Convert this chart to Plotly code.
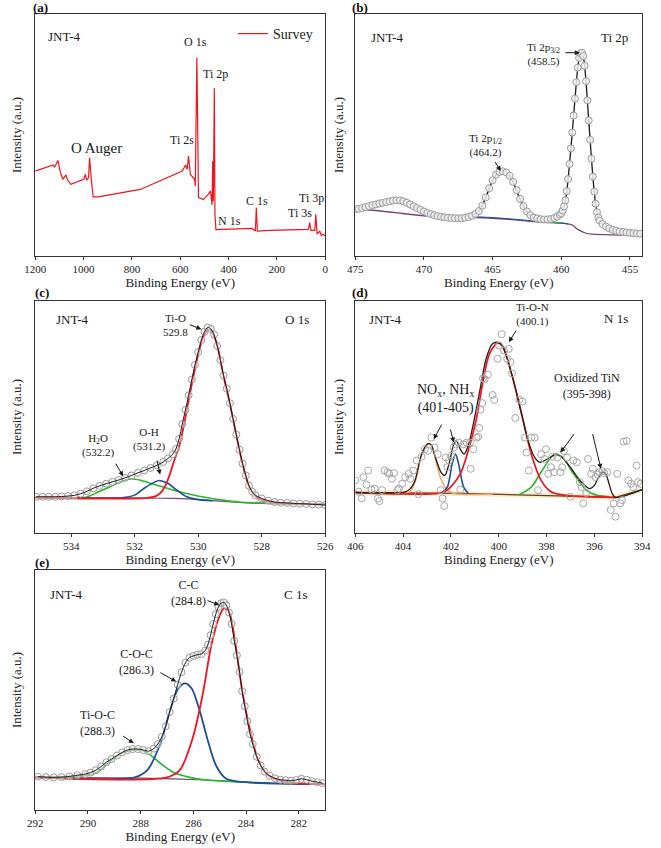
import plotly.graph_objects as go

W, H = 661, 848
FONT = "Liberation Serif, Times New Roman, serif"

# ---------------- (a) Survey ----------------
A_BE = [1200.0, 1126.4, 1119.7, 1106.3, 1097.0, 1086.3, 1072.9, 1066.2, 1052.8, 999.3, 992.6, 987.3,
        979.3, 975.2, 968.6, 960.5, 939.1, 765.2, 591.3, 577.9, 571.2, 565.9, 557.9, 544.5, 540.5,
        537.8, 531.1, 524.4, 504.3, 484.3, 474.9, 468.2, 465.5, 462.9, 458.9, 456.2, 452.2, 363.9,
        303.7, 289.0, 284.9, 280.9, 230.1, 69.6, 64.2, 58.9, 42.8, 38.8, 33.4, 22.7, 16.1, 9.4, 0.0]
A_I = [35.1, 37.6, 36.8, 39.5, 35.1, 31.7, 33.5, 31.4, 29.6, 31.7, 33.7, 31.4,
       32.4, 40.6, 32.4, 24.4, 24.4, 27.5, 35.1, 37.6, 35.8, 41.3, 33.7, 32.4, 31.7,
       28.9, 82.0, 24.1, 23.3, 25.5, 26.9, 21.1, 39.3, 22.7, 69.3, 17.2, 10.9, 11.2,
       11.4, 10.3, 20.0, 10.3, 10.6, 11.0, 13.8, 10.6, 10.6, 17.2, 9.0, 10.3, 8.5, 9.0, 8.3]

# ---------------- (b) Ti 2p ----------------
B_BE = [475.0, 474.75, 474.5, 474.25, 474.0, 473.75, 473.5, 473.25, 473.0, 472.75, 472.5, 472.25,
        472.0, 471.75, 471.5, 471.25, 471.0, 470.75, 470.5, 470.25, 470.0, 469.75, 469.5, 469.25,
        469.0, 468.75, 468.5, 468.25, 468.0, 467.75, 467.5, 467.25, 467.0, 466.75, 466.5, 466.25,
        466.0, 465.75, 465.5, 465.25, 465.0, 464.75, 464.5, 464.25, 464.0, 463.75, 463.5, 463.25,
        463.0, 462.75, 462.5, 462.25, 462.0, 461.75, 461.5, 461.25, 461.0, 460.75, 460.5, 460.3,
        460.1, 460.0, 459.9, 459.8, 459.7, 459.6, 459.5, 459.4, 459.3, 459.2, 459.1, 459.0,
        458.9, 458.8, 458.7, 458.6, 458.5, 458.4, 458.3, 458.2, 458.1, 458.0, 457.9, 457.8,
        457.7, 457.6, 457.5, 457.4, 457.3, 457.2, 457.0, 456.75, 456.5, 456.25, 456.0, 455.75,
        455.5, 455.25, 455.0, 454.75, 454.5, 454.25]
B_I = [19.3, 19.5, 19.8, 20.2, 20.6, 21.0, 21.3, 21.7, 22.0, 22.3, 22.6, 22.9,
       23.0, 23.0, 22.6, 22.0, 21.3, 20.5, 19.8, 19.1, 18.4, 17.8, 17.3, 16.9,
       16.5, 16.2, 16.0, 15.8, 15.7, 15.6, 15.6, 15.6, 15.8, 16.1, 16.6, 17.4,
       18.6, 20.8, 24.2, 28.0, 31.3, 33.6, 34.7, 35.0, 34.5, 33.1, 30.6, 27.2,
       23.6, 20.6, 18.4, 16.9, 15.9, 15.5, 15.2, 15.1, 15.1, 15.3, 15.7, 16.3,
       17.1, 17.7, 18.8, 20.5, 23.0, 26.8, 31.8, 38.0, 44.5, 51.0, 58.0, 65.0,
       71.8, 77.8, 81.8, 83.7, 84.0, 82.6, 78.6, 72.2, 64.3, 56.0, 48.0, 40.2,
       32.8, 26.6, 21.6, 18.1, 15.9, 14.6, 13.2, 12.2, 11.4, 10.8, 10.4, 10.1,
       9.9, 9.7, 9.6, 9.4, 9.3, 9.2]
B_BG_BE = [475.0, 473.7, 472.1, 469.7, 467.4, 465.0, 462.6, 461.5, 459.8, 459.2, 458.8, 458.2, 457.7, 456.3, 454.1]
B_BG_I = [19.3, 18.9, 17.9, 16.5, 16.1, 15.6, 14.5, 14.0, 13.5, 12.8, 11.0, 9.4, 9.0, 8.7, 8.5]
B_BLUE_BE = [470.0, 467.0, 465.0, 463.0, 461.5, 460.5, 459.5]
B_BLUE_I = [16.7, 16.3, 15.9, 15.0, 14.3, 13.9, 13.3]
B_GREEN_BE = [468.0, 467.0, 466.5, 466.0, 465.5, 465.0, 464.5, 464.25, 464.0, 463.5, 463.0, 462.5, 462.0, 461.0, 460.0]
B_GREEN_I = [15.9, 15.8, 16.3, 18.3, 23.8, 31.0, 34.4, 34.7, 34.2, 30.3, 23.2, 18.0, 15.4, 14.2, 13.6]

# ---------------- (c) O 1s ----------------
C_BE = [535.1, 534.9, 534.7, 534.5, 534.3, 534.1, 533.9, 533.7, 533.5, 533.3, 533.1, 532.9,
        532.7, 532.5, 532.3, 532.1, 531.9, 531.7, 531.5, 531.3, 531.1, 530.95, 530.8, 530.7,
        530.6, 530.5, 530.4, 530.3, 530.2, 530.1, 530.0, 529.9, 529.8, 529.7, 529.6, 529.5,
        529.4, 529.3, 529.2, 529.1, 529.0, 528.9, 528.8, 528.7, 528.6, 528.5, 528.4, 528.3,
        528.2, 528.0, 527.8, 527.6, 527.4, 527.2, 527.0, 526.8, 526.6, 526.4, 526.2, 526.0]
C_I = [15.3, 15.3, 15.3, 15.3, 15.4, 15.6, 15.9, 16.6, 17.6, 18.9, 19.9, 20.8,
       21.6, 22.4, 23.3, 24.3, 25.4, 26.4, 27.5, 28.6, 30.0, 31.5, 33.3, 35.5,
       39.8, 46.0, 52.0, 58.2, 64.8, 71.0, 76.4, 81.5, 85.0, 86.8, 86.2, 83.8,
       79.0, 73.0, 66.5, 61.0, 54.8, 48.2, 41.6, 35.2, 29.3, 24.3, 20.0, 17.5,
       16.0, 14.6, 13.7, 13.1, 12.8, 12.7, 12.5, 12.4, 12.3, 12.1, 12.0, 11.8]
C_BG_BE = [535.13, 532.31, 530.77, 529.74, 528.72, 527.69, 526.0]
C_BG_I = [15.0, 14.9, 14.6, 13.9, 12.9, 12.4, 12.1]
C_GREEN_BE = [535.13, 534.36, 533.54, 533.13, 532.82, 532.41, 532.1, 531.79, 531.28, 530.77, 530.26, 529.74, 529.23, 528.72, 527.69, 526.0]
C_GREEN_I = [15.0, 15.0, 15.1, 17.4, 19.2, 21.9, 22.9, 22.2, 20.1, 18.1, 16.4, 15.0, 13.9, 13.1, 12.5, 12.2]
C_BLUE_BE = [535.13, 532.41, 532.0, 531.69, 531.38, 531.23, 530.97, 530.67, 530.36, 530.05, 529.54]
C_BLUE_I = [15.0, 14.9, 16.0, 19.0, 21.5, 22.2, 21.1, 18.1, 15.3, 14.2, 13.6]
C_RED_BE = [535.13, 531.6, 531.3, 531.13, 531.03, 530.9, 530.77, 530.6, 530.45, 530.3, 530.15, 530.0,
            529.85, 529.7, 529.6, 529.5, 529.38, 529.2, 529.0, 528.8, 528.6, 528.4, 528.2, 528.0, 527.7, 527.2, 526.0]
C_RED_I = [15.0, 14.8, 15.8, 17.8, 20.1, 24.5, 30.0, 36.5, 45.5, 56.0, 66.2, 75.3,
           82.4, 85.8, 85.5, 83.2, 78.3, 66.2, 54.5, 41.3, 29.0, 19.7, 15.6, 14.0, 13.0, 12.5, 12.0]

# ---------------- (d) N 1s ----------------
D_BE = [406.00, 405.86, 405.73, 405.66, 405.53, 405.46, 405.32, 405.19, 405.05, 404.99, 404.88, 404.78,
        404.65, 404.58, 404.47, 404.38, 404.24, 404.18, 404.04, 403.91, 403.77, 403.70, 403.57, 403.43,
        403.36, 403.23, 403.09, 402.96, 402.82, 402.69, 402.55, 402.42, 402.35, 402.28, 402.22, 402.15,
        402.08, 401.99, 401.88, 401.81, 401.68, 401.61, 401.47, 401.34, 401.20, 401.18, 401.07, 400.93,
        400.86, 400.82, 400.77, 400.69, 400.66, 400.59, 400.46, 400.26, 400.19, 400.05, 399.99, 399.88,
        399.78, 399.65, 399.58, 399.51, 399.45, 399.31, 399.14, 399.01, 398.91, 398.84, 398.74, 398.64,
        398.50, 398.36, 398.23, 398.09, 398.03, 397.93, 397.82, 397.76, 397.69, 397.55, 397.42, 397.35,
        397.28, 397.15, 397.01, 396.88, 396.74, 396.61, 396.54, 396.47, 396.34, 396.27, 396.14, 396.07,
        395.96, 395.86, 395.80, 395.66, 395.59, 395.46, 395.32, 395.19, 395.12, 395.05, 394.92, 394.85,
        394.78, 394.65, 394.58, 394.47, 394.38, 394.24, 394.18, 394.07]
D_I = [22.2, 17.4, 14.6, 23.6, 20.4, 26.4, 18.3, 18.75, 14.6, 13.5, 18.1, 26.4,
       25.7, 25.0, 22.9, 25.3, 18.1, 18.75, 20.8, 23.6, 25.0, 22.9, 26.4, 30.6,
       16.4, 32.2, 35.4, 34.7, 40.3, 36.1, 33.3, 18.1, 14.6, 11.4, 31.9, 27.8,
       30.6, 32.6, 36.1, 37.5, 38.2, 18.3, 37.5, 38.2, 38.2, 27.1, 35.4, 40.3,
       40.6, 44.4, 52.1, 54.9, 65.3, 65.0, 66.9, 58.3, 56.25, 73.6, 79.2, 84.0,
       77.1, 73.6, 77.8, 72.2, 67.4, 48.6, 56.25, 55.6, 40.3, 34.0, 26.4, 40.3,
       40.3, 18.1, 33.3, 31.25, 35.4, 25.0, 27.8, 32.2, 25.7, 31.9, 25.7, 27.8,
       34.7, 31.9, 15.3, 30.6, 29.9, 21.5, 19.4, 12.5, 16.9, 31.25, 25.0, 27.1,
       23.6, 24.7, 25.7, 26.1, 25.3, 25.7, 9.7, 12.5, 6.9, 25.0, 12.5, 13.9,
       38.6, 38.9, 22.2, 20.8, 19.4, 28.5, 21.5, 20.8]
D_BG_BE = [406.0, 401.61, 397.55, 395.12, 394.0]
D_BG_I = [17.1, 16.7, 15.7, 15.0, 18.3]
D_ENV_BE = [406.0, 403.91, 403.70, 403.5, 403.23, 402.96, 402.82, 402.69, 402.42, 402.26, 402.08, 401.88,
            401.77, 401.61, 401.45, 401.27, 401.07, 400.8, 400.53, 400.26, 400.05, 399.85, 399.45, 399.04,
            398.77, 398.5, 398.3, 397.96, 397.62, 397.42, 397.01, 396.61, 396.2, 396.0, 395.86, 395.66,
            395.53, 395.39, 395.26, 395.12, 394.0]
D_ENV_I = [17.1, 17.4, 18.75, 22.2, 33.3, 37.8, 37.2, 33.3, 25.7, 24.3, 29.2, 37.5,
           38.9, 35.4, 33.3, 37.2, 45.8, 59.7, 73.6, 79.9, 80.6, 78.9, 66.7, 50.0,
           38.9, 31.9, 29.9, 31.25, 33.3, 32.6, 27.8, 22.2, 18.75, 20.1, 22.9, 25.7,
           25.0, 20.8, 16.7, 15.0, 18.3]
D_ORANGE_BE = [406.0, 403.77, 403.5, 403.23, 402.96, 402.82, 402.69, 402.42, 402.15, 401.88, 400.26]
D_ORANGE_I = [17.1, 17.1, 21.5, 32.6, 37.5, 36.8, 32.6, 22.9, 18.1, 16.7, 16.4]
D_BLUE_BE = [402.42, 402.15, 401.95, 401.81, 401.68, 401.47, 401.27]
D_BLUE_I = [16.7, 19.4, 29.2, 33.3, 29.2, 19.4, 16.7]
D_RED_BE = [406.0, 402.55, 402.15, 401.61, 401.2, 400.93, 400.66, 400.39, 400.05, 399.85, 399.45, 399.04,
            398.64, 398.23, 397.82, 397.28, 395.12]
D_RED_I = [17.1, 16.7, 18.1, 25.0, 37.5, 48.6, 63.9, 75.7, 80.3, 79.2, 66.7, 50.0,
           33.3, 22.2, 17.4, 16.0, 15.0]
D_GREEN_BE = [399.18, 398.64, 398.23, 397.82, 397.62, 397.28, 396.88, 396.34, 395.93, 395.39]
D_GREEN_I = [16.0, 19.4, 25.7, 31.9, 33.1, 31.25, 25.0, 18.1, 16.0, 15.3]

# ---------------- (e) C 1s ----------------
E_BE = [291.9, 291.6, 291.3, 291.0, 290.7, 290.4, 290.1, 289.9, 289.7, 289.5, 289.3, 289.1,
        288.9, 288.7, 288.5, 288.3, 288.1, 287.9, 287.7, 287.5, 287.35, 287.2, 287.05, 286.9,
        286.75, 286.6, 286.45, 286.3, 286.15, 286.0, 285.85, 285.7, 285.55, 285.45, 285.35, 285.25,
        285.15, 285.05, 284.95, 284.85, 284.75, 284.65, 284.55, 284.45, 284.35, 284.25, 284.15, 284.05,
        283.95, 283.85, 283.75, 283.6, 283.45, 283.3, 283.1, 282.9, 282.7, 282.5, 282.3, 282.1,
        281.9, 281.7, 281.5, 281.3, 281.1]
E_I = [13.9, 13.7, 13.6, 13.7, 14.0, 14.5, 15.0, 15.6, 16.6, 18.1, 19.9, 21.3,
       22.7, 24.0, 25.0, 25.4, 25.4, 25.0, 24.5, 25.6, 27.5, 30.5, 34.9, 40.8,
       46.4, 52.2, 57.4, 61.4, 63.5, 64.2, 64.7, 65.0, 66.5, 68.9, 72.8, 77.5,
       81.6, 84.6, 86.2, 86.5, 85.3, 82.3, 77.5, 70.5, 64.4, 57.5, 49.5, 43.2,
       37.0, 31.6, 27.5, 22.2, 18.6, 16.0, 14.2, 13.2, 12.6, 12.4, 12.2, 12.5,
       13.0, 12.6, 12.0, 11.6, 11.2]
E_BG_BE = [292.0, 287.99, 285.52, 283.05, 281.01]
E_BG_I = [13.6, 13.3, 12.5, 11.1, 10.8]
E_GREEN_BE = [292.0, 289.72, 289.22, 288.73, 288.23, 287.99, 287.62, 287.25, 286.75, 286.14, 285.52, 283.05]
E_GREEN_I = [13.6, 15.3, 19.7, 23.6, 25.0, 25.0, 22.9, 19.4, 15.6, 13.6, 12.5, 11.1]
E_BLUE_BE = [292.0, 288.23, 287.74, 287.25, 286.88, 286.57, 286.32, 286.07, 285.77, 285.46, 285.15, 284.78, 284.28, 281.01]
E_BLUE_I = [13.6, 13.6, 16.7, 27.8, 41.7, 50.7, 52.8, 50.7, 41.7, 29.2, 18.75, 13.2, 11.8, 10.8]
E_RED_BE = [292.0, 287.0, 286.51, 286.01, 285.64, 285.33, 285.02, 284.84, 284.65, 284.41, 284.16, 283.85,
            283.54, 283.17, 282.68, 282.06, 281.01]
E_RED_I = [13.6, 13.6, 16.7, 30.6, 48.6, 68.1, 80.6, 84.0, 82.6, 69.5, 50.5, 33.3,
           20.8, 14.6, 12.1, 11.1, 10.8]

# ---------------- styling ----------------
RED = "#f0141e"
BLUE = "#1b4f96"
GREEN = "#2bb52b"
BLACK = "#1a1a1a"
BGC = "#74466e"
ORANGE = "#f2a766"
CIRC = "#9c9c9c"

# panel pixel boxes: (x0, x1, y0, y1)
BOX = {
    1: (25, 324, 14, 256),
    2: (355, 651, 14, 256),
    3: (25, 324, 301, 533),
    4: (355, 651, 301, 533),
    5: (25, 324, 570, 810),
}
XR = {1: [1200, 0], 2: [475, 454.1], 3: [535.13, 526], 4: [406, 394], 5: [292, 281]}
DT = {1: 200, 2: 5, 3: 2, 4: 2, 5: 2}
YR = {1: [0, 100], 2: [0, 100], 3: [0, 98], 4: [0, 98], 5: [0, 100]}


def ax(i):
    return ("x" if i == 1 else f"x{i}"), ("y" if i == 1 else f"y{i}")


fig = go.Figure()


def line(i, x, y, color, width=1.5, shape="spline", name="", legend=False, opacity=1.0):
    xa, ya = ax(i)
    fig.add_trace(go.Scatter(x=x, y=y, mode="lines", xaxis=xa, yaxis=ya, name=name,
                             showlegend=legend, opacity=opacity,
                             line=dict(color=color, width=width, shape=shape, smoothing=0.8)))


def circles(i, x, y, size=7, fill="rgba(0,0,0,0)", edge=CIRC):
    xa, ya = ax(i)
    fig.add_trace(go.Scatter(x=x, y=y, mode="markers", xaxis=xa, yaxis=ya, showlegend=False,
                             marker=dict(symbol="circle", size=size, color=fill,
                                         line=dict(color=edge, width=1))))


# (a)
line(1, A_BE, A_I, RED, 1.2, "linear", name="Survey", legend=True)
# (b)
line(2, B_BG_BE, B_BG_I, BGC, 1.3)
line(2, B_BLUE_BE, B_BLUE_I, BLUE, 1.0)
line(2, B_GREEN_BE, B_GREEN_I, GREEN, 1.2)
line(2, B_BE, B_I, BLACK, 1.3)
circles(2, B_BE, B_I, 7, "rgba(238,238,238,0.85)")
# (c)
line(3, C_BG_BE, C_BG_I, BGC, 1.2)
line(3, C_GREEN_BE, C_GREEN_I, GREEN, 1.6)
line(3, C_BLUE_BE, C_BLUE_I, BLUE, 1.6)
line(3, C_RED_BE, C_RED_I, RED, 1.8)
circles(3, C_BE, C_I, 7, "rgba(240,240,240,0.5)")
line(3, C_BE, C_I, BLACK, 1.0)
# (d)
line(4, D_BG_BE, D_BG_I, "rgba(250,232,180,0.7)", 5, "linear")
line(4, D_BG_BE, D_BG_I, "#6b3a2a", 1.3, "linear")
line(4, D_ORANGE_BE, D_ORANGE_I, ORANGE, 1.5)
line(4, D_BLUE_BE, D_BLUE_I, BLUE, 1.6)
line(4, D_GREEN_BE, D_GREEN_I, GREEN, 1.6)
line(4, D_RED_BE, D_RED_I, RED, 1.7)
line(4, D_ENV_BE, D_ENV_I, "#2a1a14", 1.3)
circles(4, D_BE, D_I, 7, edge="#a8a8a8")
# (e)
line(5, E_BG_BE, E_BG_I, BGC, 1.2)
line(5, E_GREEN_BE, E_GREEN_I, GREEN, 1.6)
line(5, E_BLUE_BE, E_BLUE_I, BLUE, 1.8)
line(5, E_RED_BE, E_RED_I, RED, 1.8)
circles(5, E_BE, E_I, 7, "rgba(240,240,240,0.5)")
line(5, E_BE, E_I, BLACK, 1.0)

# ---------------- axes ----------------
layout = dict(width=W, height=H, margin=dict(l=0, r=0, t=0, b=0),
              paper_bgcolor="white", plot_bgcolor="white",
              font=dict(family=FONT, color="#111"))
for i, (x0, x1, y0, y1) in BOX.items():
    xa, ya = ax(i)
    xk = "xaxis" if i == 1 else f"xaxis{i}"
    yk = "yaxis" if i == 1 else f"yaxis{i}"
    ystand = 9 if x0 < 100 else 7
    layout[xk] = dict(domain=[x0 / W, x1 / W], range=XR[i], anchor=ya, dtick=DT[i],
                      showline=True, mirror=True, linecolor="#333", linewidth=1,
                      ticks="outside", ticklen=3, tickcolor="#333", showgrid=False, zeroline=False,
                      tickfont=dict(family=FONT, size=11, color="#222"),
                      title=dict(text="Binding Energy (eV)", font=dict(family=FONT, size=13, color="#222"),
                                 standoff=3))
    layout[yk] = dict(domain=[1 - y1 / H, 1 - y0 / H], range=YR[i], anchor=xa,
                      showline=True, mirror=True, linecolor="#333", linewidth=1,
                      ticks="", showticklabels=False, showgrid=False, zeroline=False,
                      title=dict(text="Intensity (a.u.)", font=dict(family=FONT, size=13, color="#222"),
                                 standoff=ystand))

layout["legend"] = dict(x=229 / W, y=1 - 34 / H, xanchor="left", yanchor="middle",
                        bgcolor="rgba(0,0,0,0)", font=dict(family=FONT, size=14, color="#222"))

ann = []


def txt(i, x, y, t, size=12):
    xa, ya = ax(i)
    ann.append(dict(xref=xa, yref=ya, x=x, y=y, text=t, showarrow=False,
                    font=dict(family=FONT, size=size, color="#1a1a1a")))


def arr(i, x0, y0, x1, y1):
    xa, ya = ax(i)
    ann.append(dict(xref=xa, yref=ya, x=x1, y=y1, ax=x0, ay=y0, axref=xa, ayref=ya, text="",
                    showarrow=True, arrowhead=2, arrowsize=1, arrowwidth=1, arrowcolor="#1a1a1a"))


def plabel(t, px, py):
    ann.append(dict(xref="paper", yref="paper", x=px / W, y=1 - py / H, text=f"<b>{t}</b>",
                    showarrow=False, xanchor="left", yanchor="middle",
                    font=dict(family=FONT, size=13, color="#111")))


plabel("(a)", 21, 7)
plabel("(b)", 350, 7)
plabel("(c)", 23, 292)
plabel("(d)", 350, 292)
plabel("(e)", 23, 562)

# (a)
txt(1, 1079.6, 90.6, "JNT-4", 13)
txt(1, 537.8, 88.6, "O 1s", 12)
txt(1, 452.2, 75.1, "Ti 2p", 12)
txt(1, 591.3, 47.8, "Ti 2s", 12)
txt(1, 948.5, 44.8, "O Auger", 15)
txt(1, 394.6, 14.5, "N 1s", 12)
txt(1, 283.6, 22.7, "C 1s", 12)
txt(1, 103.0, 17.9, "Ti 3s", 12)
txt(1, 56.2, 23.8, "Ti 3p", 12)
# (b)
txt(2, 472.65, 90.2, "JNT-4", 13)
txt(2, 456.1, 90.2, "Ti 2p", 13)
txt(2, 461.27, 83.2, "Ti 2p<sub>3/2</sub><br>(458.5)", 11)
arr(2, 459.82, 84.0, 458.65, 84.0)
txt(2, 465.52, 45.6, "Ti 2p<sub>1/2</sub><br>(464.2)", 11)
arr(2, 464.88, 39.5, 464.41, 35.1)
# (c)
txt(3, 533.95, 90.3, "JNT-4", 13)
txt(3, 526.89, 90.3, "O 1s", 13)
txt(3, 530.72, 87.85, "Ti-O<br>529.8", 11)
arr(3, 530.31, 88.2, 529.9, 86.1)
txt(3, 531.56, 39.3, "O-H<br>(531.2)", 11)
arr(3, 531.30, 31.25, 531.2, 24.7)
txt(3, 533.16, 36.8, "H<sub>2</sub>O<br>(532.2)", 11)
arr(3, 532.62, 29.9, 532.36, 23.9)
# (d)
txt(4, 404.72, 90.3, "JNT-4", 13)
txt(4, 395.12, 90.6, "N 1s", 13)
txt(4, 398.57, 92.4, "Ti-O-N<br>(400.1)", 11)
arr(4, 399.24, 86.1, 399.58, 80.6)
txt(4, 402.22, 56.45, "NO<sub>x</sub>, NH<sub>x</sub><br>(401-405)", 14)
arr(4, 402.35, 46.5, 402.72, 39.6)
arr(4, 402.04, 44.4, 401.88, 38.2)
txt(4, 396.33, 62.15, "Oxidized TiN<br>(395-398)", 12)
arr(4, 396.81, 42.4, 397.42, 34.0)
arr(4, 396.09, 42.4, 395.73, 27.1)
# (e)
txt(5, 290.83, 90.0, "JNT-4", 13)
txt(5, 282.12, 90.0, "C 1s", 13)
txt(5, 286.2, 90.6, "C-C<br>(284.8)", 12)
arr(5, 285.52, 87.5, 285.02, 85.4)
txt(5, 288.17, 61.6, "C-O-C<br>(286.3)", 12)
arr(5, 287.31, 57.6, 286.65, 53.5)
txt(5, 289.63, 36.1, "Ti-O-C<br>(288.3)", 12)
arr(5, 288.73, 31.25, 288.26, 27.8)

layout["annotations"] = ann
fig.update_layout(**layout)
fig.write_html("out.html")
